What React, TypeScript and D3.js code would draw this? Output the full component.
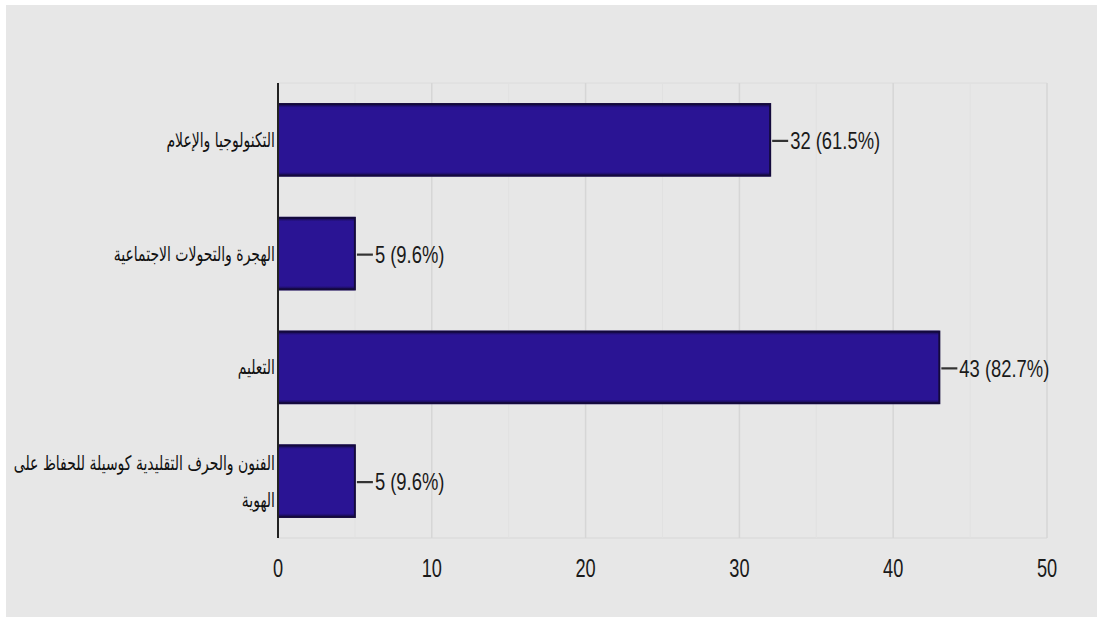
import React from "react";
import * as d3 from "d3";

const categories = [
  "التكنولوجيا والإعلام",
  "الهجرة والتحولات الاجتماعية",
  "التعليم",
  "الفنون والحرف التقليدية كوسيلة للحفاظ على الهوية",
];
const counts = [32, 5, 43, 5];
const percents = ["61.5%", "9.6%", "82.7%", "9.6%"];
const majorTicks = [0, 10, 20, 30, 40, 50];
const minorTicks = [5, 15, 25, 35, 45];

const W = 1097;
const H = 618;
const plot = { left: 278, right: 1047, top: 83, bottom: 538 };

function wrap(label: string, maxChars: number): string[] {
  const words = label.split(" ");
  const lines: string[] = [];
  let cur = "";
  for (const w of words) {
    const next = cur ? cur + " " + w : w;
    if (next.length > maxChars && cur) {
      lines.push(cur);
      cur = w;
    } else cur = next;
  }
  if (cur) lines.push(cur);
  return lines;
}

export default function App() {
  const x = d3.scaleLinear().domain([0, 50]).range([plot.left, plot.right]);
  const y = d3
    .scaleBand<string>()
    .domain(categories)
    .range([plot.top, plot.bottom])
    .paddingInner(0.37)
    .paddingOuter(0.185);
  const bw = y.bandwidth();

  return (
    <svg
      width={W}
      height={H}
      style={{ position: "absolute", left: 0, top: 0, display: "block" }}
    >
      <defs>
        <linearGradient id="barShade" x1="0" y1="0" x2="0" y2="1">
          <stop offset="0" stopColor="#150a45" />
          <stop offset="0.05" stopColor="#2a1494" />
          <stop offset="0.95" stopColor="#2a1494" />
          <stop offset="1" stopColor="#150a45" />
        </linearGradient>
      </defs>
      <rect x={0} y={0} width={W} height={H} fill="#ffffff" />
      <rect x={6} y={5} width={W - 6} height={H - 6} fill="#e7e7e7" />

      <line x1={plot.left} x2={plot.right} y1={plot.top} y2={plot.top} stroke="#dcdcdc" strokeWidth={1} />
      <line x1={plot.left} x2={plot.right} y1={plot.bottom} y2={plot.bottom} stroke="#dcdcdc" strokeWidth={1.5} />

      {minorTicks.map((t) => (
        <line key={"m" + t} x1={x(t)} x2={x(t)} y1={plot.top} y2={plot.bottom} stroke="#e1e1e1" strokeWidth={1} />
      ))}
      {majorTicks.slice(1).map((t) => (
        <line key={"g" + t} x1={x(t)} x2={x(t)} y1={plot.top} y2={plot.bottom} stroke="#d6d6d6" strokeWidth={1.5} />
      ))}

      {categories.map((c, i) => {
        const y0 = y(c)!;
        const x1 = x(counts[i]);
        const cy = y0 + bw / 2;
        const lines = wrap(c, 42);
        const lh = 37;
        const start = cy - ((lines.length - 1) * lh) / 2;
        return (
          <g key={c}>
            <line x1={plot.left} x2={x1} y1={y0 - 0.5} y2={y0 - 0.5} stroke="#a494e0" strokeWidth={1.2} />
            <line x1={plot.left} x2={x1} y1={y0 + bw + 0.5} y2={y0 + bw + 0.5} stroke="#a494e0" strokeWidth={1.2} />
            <rect x={plot.left} y={y0} width={x1 - plot.left} height={bw} fill="url(#barShade)" stroke="#140a3c" strokeWidth={2} />
            <line x1={x1 + 2} x2={x1 + 18} y1={cy + 1} y2={cy + 1} stroke="#333" strokeWidth={2.2} />
            <g transform={`translate(${x1 + 20},${cy + 1}) scale(0.8,1)`}>
              <text
                x={0}
                y={0}
                dominantBaseline="central"
                fontFamily="'Liberation Sans', Arial, sans-serif"
                fontSize={23}
                fill="#1a1a1a"
              >
                {`${counts[i]} (${percents[i]})`}
              </text>
            </g>
            {lines.map((ln, k) => (
              <g key={k} transform={`translate(${plot.left - 3},${start + k * lh}) scale(0.7,1)`}>
                <text
                  x={0}
                  y={0}
                  dominantBaseline="central"
                  textAnchor="end"
                  fontFamily="'DejaVu Sans', sans-serif"
                  fontSize={20}
                  fill="#111"
                >
                  {ln}
                </text>
              </g>
            ))}
          </g>
        );
      })}

      <line x1={plot.left} x2={plot.left} y1={plot.top} y2={plot.bottom} stroke="#222" strokeWidth={2} />

      {majorTicks.map((t) => (
        <g key={"t" + t} transform={`translate(${x(t)},568) scale(0.7,1)`}>
          <text
            x={0}
            y={0}
            dominantBaseline="central"
            textAnchor="middle"
            fontFamily="'Liberation Sans', Arial, sans-serif"
            fontSize={26}
            fill="#1a1a1a"
          >
            {t}
          </text>
        </g>
      ))}
    </svg>
  );
}
